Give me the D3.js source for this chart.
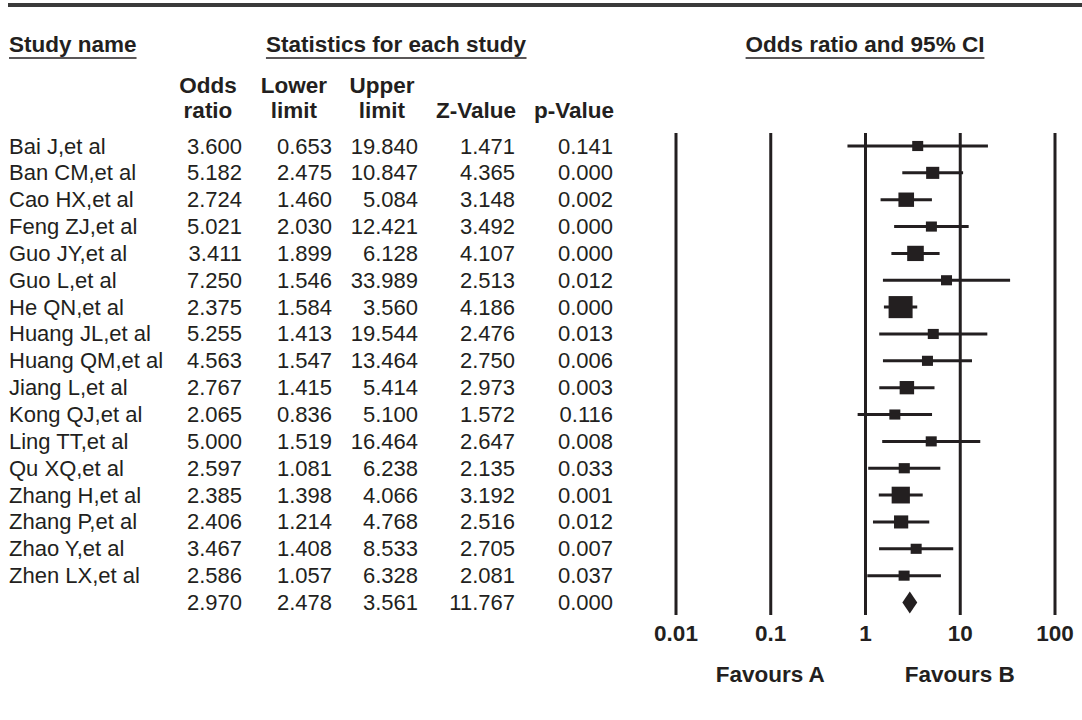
<!DOCTYPE html>
<html>
<head>
<meta charset="utf-8">
<script src="https://cdn.jsdelivr.net/npm/d3@7"></script>
<style>
  body { margin: 0; background: #fff; }
  svg text { font-family: "Liberation Sans", Arial, sans-serif; fill: #231f20; }
  .bold { font-weight: bold; }
</style>
</head>
<body>
<div id="chart"></div>
<script>
// study table
var studies = ["Bai J,et al", "Ban CM,et al", "Cao HX,et al", "Feng ZJ,et al", "Guo JY,et al",
    "Guo L,et al", "He QN,et al", "Huang JL,et al", "Huang QM,et al", "Jiang L,et al",
    "Kong QJ,et al", "Ling TT,et al", "Qu XQ,et al", "Zhang H,et al", "Zhang P,et al",
    "Zhao Y,et al", "Zhen LX,et al"];
var oddsRatio = [3.600, 5.182, 2.724, 5.021, 3.411, 7.250, 2.375, 5.255, 4.563, 2.767, 2.065, 5.000, 2.597, 2.385, 2.406, 3.467, 2.586];
var lowerLimit = [0.653, 2.475, 1.460, 2.030, 1.899, 1.546, 1.584, 1.413, 1.547, 1.415, 0.836, 1.519, 1.081, 1.398, 1.214, 1.408, 1.057];
var upperLimit = [19.840, 10.847, 5.084, 12.421, 6.128, 33.989, 3.560, 19.544, 13.464, 5.414, 5.100, 16.464, 6.238, 4.066, 4.768, 8.533, 6.328];
var zValue = [1.471, 4.365, 3.148, 3.492, 4.107, 2.513, 4.186, 2.476, 2.750, 2.973, 1.572, 2.647, 2.135, 3.192, 2.516, 2.705, 2.081];
var pValue = [0.141, 0.000, 0.002, 0.000, 0.000, 0.012, 0.000, 0.013, 0.006, 0.003, 0.116, 0.008, 0.033, 0.001, 0.012, 0.007, 0.037];
// relative weights (box sizes)
var weights = [1.3, 7.0, 9.9, 4.7, 11.2, 1.6, 23.4, 2.2, 3.3, 8.5, 4.7, 2.7, 5.0, 13.5, 8.2, 4.7, 4.8];
// pooled: OR, lower, upper, Z, p
var pooled = [2.970, 2.478, 3.561, 11.767, 0.000];
var axisTicks = [0.01, 0.1, 1, 10, 100];

var W = 1082, H = 720;
var ink = "#231f20";
var fs = 22, fsb = 22.5;
var fmt = d3.format(".3f");

var svg = d3.select("#chart").append("svg")
    .attr("width", W)
    .attr("height", H);

// top rule
svg.append("line")
    .attr("x1", 8).attr("x2", W)
    .attr("y1", 5).attr("y2", 5)
    .style("stroke", "#3a3a3a")
    .style("stroke-width", 4);

var x = d3.scaleLog().domain([0.01, 100]).range([675.5, 1054.5]);
var y = d3.scaleLinear().domain([0, 17]).range([146, 602.5]);
var size = d3.scaleSqrt().domain([0, 23.4]).range([0, 24]);

// underlined group titles
var titles = [
    {t: "Study name", x: 9, anchor: "start"},
    {t: "Statistics for each study", x: 396, anchor: "middle"},
    {t: "Odds ratio and 95% CI", x: 865, anchor: "middle"}
];
titles.forEach(function (d) {
    var txt = svg.append("text")
        .attr("class", "bold")
        .attr("x", d.x)
        .attr("y", 52)
        .attr("text-anchor", d.anchor)
        .style("font-size", fsb + "px")
        .text(d.t);
    var bb = txt.node().getBBox();
    svg.append("line")
        .attr("x1", bb.x).attr("x2", bb.x + bb.width)
        .attr("y1", 58).attr("y2", 58)
        .style("stroke", ink)
        .style("stroke-width", 1.5);
});

// column headers
var colRight = [242, 332, 418, 515, 613];
var colHead = [["Odds", "ratio"], ["Lower", "limit"], ["Upper", "limit"], ["", "Z-Value"], ["", "p-Value"]];
var headCenter = [208, 294, 382, 476, 574];
colHead.forEach(function (h, i) {
    h.forEach(function (line, k) {
        if (!line) return;
        svg.append("text")
            .attr("class", "bold")
            .attr("x", headCenter[i])
            .attr("y", 93 + k * 25)
            .attr("text-anchor", "middle")
            .style("font-size", fsb + "px")
            .text(line);
    });
});

// table rows
var rows = studies.map(function (s, i) {
    return {name: s, vals: [oddsRatio[i], lowerLimit[i], upperLimit[i], zValue[i], pValue[i]], i: i};
});
rows.push({name: "", vals: pooled, i: studies.length});

var row = svg.selectAll(".row")
    .data(rows)
    .enter().append("g")
    .attr("class", "row")
    .attr("transform", function (d) { return "translate(0," + (y(d.i) + 7.5) + ")"; });

row.append("text")
    .attr("x", 9)
    .style("font-size", fs + "px")
    .text(function (d) { return d.name; });

row.selectAll(".val")
    .data(function (d) { return d.vals; })
    .enter().append("text")
    .attr("class", "val")
    .attr("x", function (d, j) { return colRight[j]; })
    .attr("text-anchor", "end")
    .style("font-size", fs + "px")
    .text(function (d) { return fmt(d); });

// forest plot reference lines + labels
var xAxis = d3.axisBottom(x)
    .tickValues(axisTicks)
    .tickSize(-(615 - 133))
    .tickFormat(d3.format("~g"));

var gx = svg.append("g")
    .attr("transform", "translate(0,615)")
    .call(xAxis);
gx.select(".domain").remove();
gx.selectAll(".tick line")
    .style("stroke", ink)
    .style("stroke-width", 3);
gx.selectAll(".tick text")
    .attr("class", "bold")
    .attr("y", 26)
    .attr("dy", null)
    .style("font-size", fsb + "px")
    .style("font-family", '"Liberation Sans", Arial, sans-serif')
    .style("fill", ink);

svg.append("text").attr("class", "bold")
    .attr("x", x(0.1)).attr("y", 682)
    .attr("text-anchor", "middle")
    .style("font-size", fsb + "px")
    .text("Favours A");
svg.append("text").attr("class", "bold")
    .attr("x", x(10)).attr("y", 682)
    .attr("text-anchor", "middle")
    .style("font-size", fsb + "px")
    .text("Favours B");

// CI lines and boxes
var plot = svg.append("g");
plot.selectAll(".ci")
    .data(rows.slice(0, studies.length))
    .enter().append("line")
    .attr("x1", function (d) { return x(d.vals[1]); })
    .attr("x2", function (d) { return x(d.vals[2]); })
    .attr("y1", function (d) { return y(d.i); })
    .attr("y2", function (d) { return y(d.i); })
    .style("stroke", ink)
    .style("stroke-width", 3);

plot.selectAll(".box")
    .data(rows.slice(0, studies.length))
    .enter().append("rect")
    .attr("x", function (d) { return x(d.vals[0]) - Math.max(11, size(weights[d.i])) / 2; })
    .attr("y", function (d) { return y(d.i) - Math.max(11, size(weights[d.i])) * 0.92 / 2; })
    .attr("width", function (d) { return Math.max(11, size(weights[d.i])); })
    .attr("height", function (d) { return Math.max(11, size(weights[d.i])) * 0.92; })
    .style("fill", ink);

// pooled diamond
var py = y(studies.length);
plot.append("path")
    .attr("d", "M" + x(pooled[1]) + "," + py +
        "L" + x(pooled[0]) + "," + (py - 11) +
        "L" + x(pooled[2]) + "," + py +
        "L" + x(pooled[0]) + "," + (py + 11) + "Z")
    .style("fill", ink);
</script>
</body>
</html>
